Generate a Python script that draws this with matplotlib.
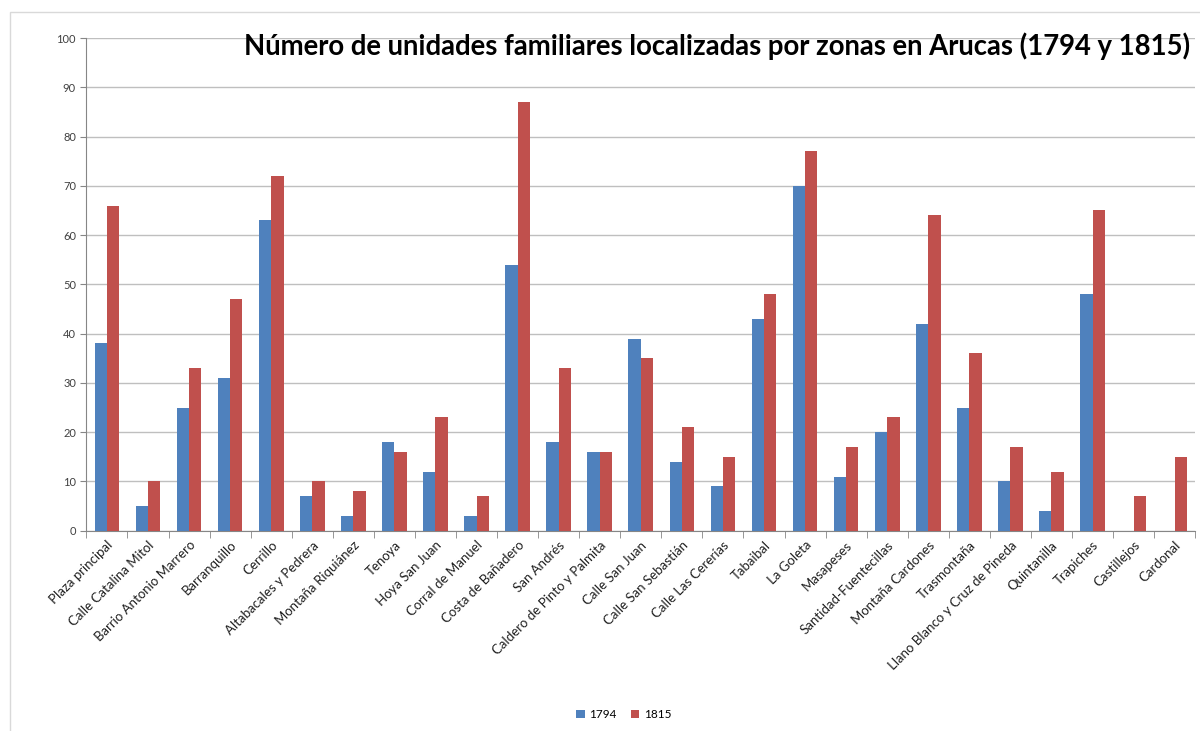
import numpy as np
import matplotlib.pyplot as plt
from matplotlib.patches import Rectangle

plt.rcParams['font.family'] = ['Lato', 'DejaVu Sans']

zonas = ['Plaza principal', 'Calle Catalina Mitol', 'Barrio Antonio Marrero',
         'Barranquillo', 'Cerrillo', 'Altabacales y Pedrera', 'Montaña Riquiánez',
         'Tenoya', 'Hoya San Juan', 'Corral de Manuel', 'Costa de Bañadero',
         'San Andrés', 'Caldero de Pinto y Palmita', 'Calle San Juan',
         'Calle San Sebastián', 'Calle Las Cererías', 'Tabaibal', 'La Goleta',
         'Masapeses', 'Santidad-Fuentecillas', 'Montaña Cardones', 'Trasmontaña',
         'Llano Blanco y Cruz de Pineda', 'Quintanilla', 'Trapiches',
         'Castillejos', 'Cardonal']
v1794 = [38, 5, 25, 31, 63, 7, 3, 18, 12, 3, 54, 18, 16, 39, 14, 9, 43, 70,
         11, 20, 42, 25, 10, 4, 48, 0, 0]
v1815 = [66, 10, 33, 47, 72, 10, 8, 16, 23, 7, 87, 33, 16, 35, 21, 15, 48, 77,
         17, 23, 64, 36, 17, 12, 65, 7, 15]
titulo = 'Número de unidades familiares localizadas por zonas en Arucas (1794 y 1815)'

azul = '#4F81BD'
rojo = '#C0504D'
gris = '#868686'

fig = plt.figure(figsize=(12, 7.31), dpi=100)
ax = fig.add_axes([0.072, 0.274, 0.924, 0.674])

x = np.arange(len(zonas))
w = 0.3
ax.bar(x - w / 2, v1794, w, color=azul, label='1794', zorder=3)
ax.bar(x + w / 2, v1815, w, color=rojo, label='1815', zorder=3)

ax.set_xlim(-0.5, len(zonas) - 0.5)
ax.set_ylim(0, 100)
ax.set_yticks(range(0, 101, 10))
ax.yaxis.grid(True, color='#BFBFBF', linewidth=1, zorder=0)
ax.tick_params(axis='y', labelsize=8, labelcolor='#404040', color=gris, length=4)

ax.set_xticks(x)
ax.set_xticklabels(zonas, rotation=45, ha='right', rotation_mode='anchor',
                   fontsize=9.5, color='#202020')
ax.tick_params(axis='x', length=0, pad=6)
ax.set_xticks(np.arange(-0.5, len(zonas), 1), minor=True)
ax.tick_params(axis='x', which='minor', length=5, color=gris)

for s in ['top', 'right']:
    ax.spines[s].set_visible(False)
ax.spines['left'].set_color(gris)
ax.spines['bottom'].set_color(gris)

fig.text(0.992, 0.937, titulo, ha='right', va='center', fontsize=19.8,
         fontweight='bold', color='black')

fig.legend(loc='center', bbox_to_anchor=(0.52, 0.022), ncol=2, frameon=False,
           fontsize=8.5, handlelength=0.7, handleheight=0.7, columnspacing=1.2,
           handletextpad=0.4)

fig.patches.append(Rectangle((0.008, -0.01), 1.0, 0.994, transform=fig.transFigure,
                             fill=False, edgecolor='#D9D9D9', linewidth=1))

plt.savefig('out.png', dpi=100)
